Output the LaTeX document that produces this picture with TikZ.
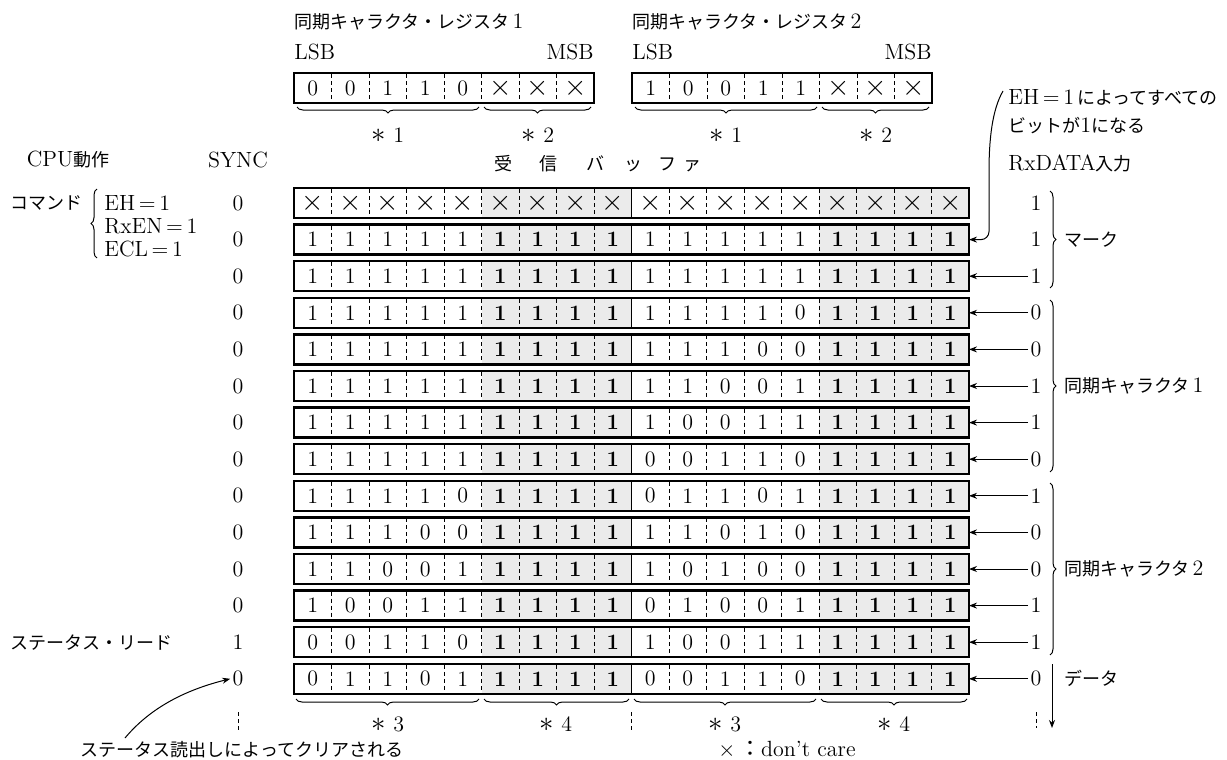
\documentclass[tikz,border=0pt]{standalone}
\usepackage{fontspec}
\newfontfamily\jp{Noto Sans CJK JP}
\usetikzlibrary{arrows.meta,decorations.pathreplacing}
\newcommand{\crossbit}{{\fontsize{14}{14}\selectfont$\times$}}
\newcommand{\lm}[1]{{\fontsize{11}{12}\rmfamily\selectfont #1}}
\newcommand{\note}[1]{{\fontsize{15}{15}\selectfont$\ast$}\ #1}

\begin{document}
\begin{tikzpicture}[
  x=0.5pt, y=-0.5pt,
  bit/.style={font=\fontsize{11}{12}\selectfont, inner sep=0pt},
  lbl/.style={font=\fontsize{11}{12}\selectfont, inner sep=1pt},
  jlbl/.style={font={\jp\fontsize{9}{11}\selectfont}, inner sep=1pt},
  rowbox/.style={draw, line width=1.2pt, minimum width=337.5pt,
                 minimum height=15pt, inner sep=0pt, outer sep=0pt},
  regbox/.style={rowbox, minimum width=150pt},
  sep/.style={dash pattern=on 2pt off 1.5pt, line width=0.5pt},
  brc/.style={decorate, decoration={brace, amplitude=3pt}, line width=0.5pt},
  tone/.style={fill=black!8},
  arr/.style={-{Stealth[length=4pt,width=3pt]}, line width=0.5pt}
]
\useasboundingbox (0,0) rectangle (1227,760);

% registers
\foreach \reg/\rx/\bits in {1/294/{0,0,1,1,0,\crossbit,\crossbit,\crossbit},
                            2/632/{1,0,0,1,1,\crossbit,\crossbit,\crossbit}}{
  \node[jlbl, anchor=west] (t\reg) at (\rx-2,22) {同期キャラクタ・レジスタ\,\lm{\reg}};
  \node[lbl, anchor=west] (lsb\reg) at (\rx-2,52) {LSB};
  \node[lbl, anchor=east] (msb\reg) at (\rx+302,52) {MSB};
  \foreach \k in {1,...,7}
    \draw[sep] (\rx+37.5*\k,74) -- (\rx+37.5*\k,102);
  \foreach \b [count=\j] in \bits
    \node[bit] (g\reg-\j) at (\rx+37.5*\j-18.75,88) {\b};
  \node[regbox] (reg\reg) at (\rx+150,88) {};
  \draw[brc] (\rx+185,107) -- (\rx+3,107);
  \draw[brc] (\rx+297,107) -- (\rx+190,107);
  \node[lbl] (ca\reg) at (\rx+94,135) {\note{1}};
  \node[lbl] (cb\reg) at (\rx+244,135) {\note{2}};
}

% headings
\node[jlbl] (cpu) at (68,160) {\lm{CPU}動作};
\node[lbl] (sync) at (238,160) {SYNC};
\node[jlbl] (buf) at (598,164)
  {受\hspace{1.5em}信\hspace{1.6em}バ\hspace{1.1em}ッ\hspace{0.9em}フ\hspace{0.4em}ァ};
\node[jlbl, anchor=west] (rxd) at (1006,163) {\lm{RxDATA}入力};
\node[jlbl, anchor=west] (ehA) at (1006,97) {\lm{EH\,=\,1}\,によってすべての};
\node[jlbl, anchor=west] (ehB) at (1006,126) {ビットが\lm{1}になる};

% receive buffer rows
\foreach \row/\s/\d [count=\i from 0] in {
  {\crossbit,\crossbit,\crossbit,\crossbit,\crossbit,\crossbit,\crossbit,\crossbit,\crossbit,
   \crossbit,\crossbit,\crossbit,\crossbit,\crossbit,\crossbit,\crossbit,\crossbit,\crossbit}/0/1,
  {1,1,1,1,1,1,1,1,1,1,1,1,1,1,1,1,1,1}/0/1,
  {1,1,1,1,1,1,1,1,1,1,1,1,1,1,1,1,1,1}/0/1,
  {1,1,1,1,1,1,1,1,1,1,1,1,1,0,1,1,1,1}/0/0,
  {1,1,1,1,1,1,1,1,1,1,1,1,0,0,1,1,1,1}/0/0,
  {1,1,1,1,1,1,1,1,1,1,1,0,0,1,1,1,1,1}/0/1,
  {1,1,1,1,1,1,1,1,1,1,0,0,1,1,1,1,1,1}/0/1,
  {1,1,1,1,1,1,1,1,1,0,0,1,1,0,1,1,1,1}/0/0,
  {1,1,1,1,0,1,1,1,1,0,1,1,0,1,1,1,1,1}/0/1,
  {1,1,1,0,0,1,1,1,1,1,1,0,1,0,1,1,1,1}/0/0,
  {1,1,0,0,1,1,1,1,1,1,0,1,0,0,1,1,1,1}/0/0,
  {1,0,0,1,1,1,1,1,1,0,1,0,0,1,1,1,1,1}/0/1,
  {0,0,1,1,0,1,1,1,1,1,0,0,1,1,1,1,1,1}/1/1,
  {0,1,1,0,1,1,1,1,1,0,0,1,1,0,1,1,1,1}/0/0}{
  \pgfmathsetmacro\yy{203+36.6*\i}
  \fill[tone] (481.5,\yy-15) rectangle (631.5,\yy+15);
  \fill[tone] (819,\yy-15) rectangle (969,\yy+15);
  \foreach \k in {1,...,8,10,11,...,17}
    \draw[sep] (294+37.5*\k,\yy-14) -- (294+37.5*\k,\yy+14);
  \draw[line width=0.6pt] (631.5,\yy-15) -- (631.5,\yy+15);
  \foreach \b [count=\j] in \row {
    \pgfmathtruncatemacro\hv{((\j>5)&&(\j<10))||(\j>14)}
    \node[bit] (b\i-\j) at (275.25+37.5*\j,\yy) {\ifnum\hv=1\bfseries\fi\b};
  }
  \node[rowbox] (r\i) at (631.5,\yy) {};
  \node[lbl] (s\i) at (238,\yy) {\s};
  \node[lbl] (in\i) at (1036,\yy) {\d};
  \ifnum\i>1 \draw[arr] (in\i.west) -- (r\i.east); \fi
}

\coordinate (e0) at (1003,91);
\draw[arr, rounded corners=4pt] (e0) .. controls (992,110) and (989,140) .. (989,180) |- (r1.east);

% command
\node[jlbl, anchor=west] (cmd) at (8,203) {コマンド};
\draw[brc] (97,258) -- (97,189);
\node[lbl, anchor=west] (eh) at (102,203) {EH\,=\,1};
\node[lbl, anchor=west] (rxen) at (102,226) {RxEN\,=\,1};
\node[lbl, anchor=west] (ecl) at (102,249) {ECL\,=\,1};
\node[jlbl, anchor=west] (stread) at (8,642.2) {ステータス・リード};

% groups on the right
\draw[brc] (1050,191) -- (1050,288);
\node[jlbl, anchor=west] (mark) at (1062,239.6) {マーク};
\draw[brc] (1050,300) -- (1050,472);
\node[jlbl, anchor=west] (sc1) at (1062,386) {同期キャラクタ\,\lm{1}};
\draw[brc] (1050,483) -- (1050,655);
\node[jlbl, anchor=west] (sc2) at (1062,569) {同期キャラクタ\,\lm{2}};
\draw[arr] (1052,664) -- (1052,728);
\node[jlbl, anchor=west] (data) at (1062,678.8) {データ};

% bottom
\draw[brc] (479,699) -- (296,699);
\draw[brc] (629,699) -- (484,699);
\draw[brc] (816,699) -- (634,699);
\draw[brc] (967,699) -- (821,699);
\node[lbl] (c3a) at (388,724) {\note{3}};
\node[lbl] (c4a) at (556,724) {\note{4}};
\node[lbl] (c3b) at (725,724) {\note{3}};
\node[lbl] (c4b) at (894,724) {\note{4}};
\draw[sep] (238,712) -- (238,730);
\draw[sep] (631.5,712) -- (631.5,732);
\draw[sep] (1036,712) -- (1036,728);

\node[jlbl] (clr) at (242,750) {ステータス読出しによってクリアされる};
\coordinate (c0) at (125,738);
\draw[arr] (c0) .. controls (150,708) and (185,690) .. (s13.west);
\node[lbl, anchor=west] (dc) at (716,750) {$\times$\,{\jp ：}don't care};
\end{tikzpicture}
\end{document}
